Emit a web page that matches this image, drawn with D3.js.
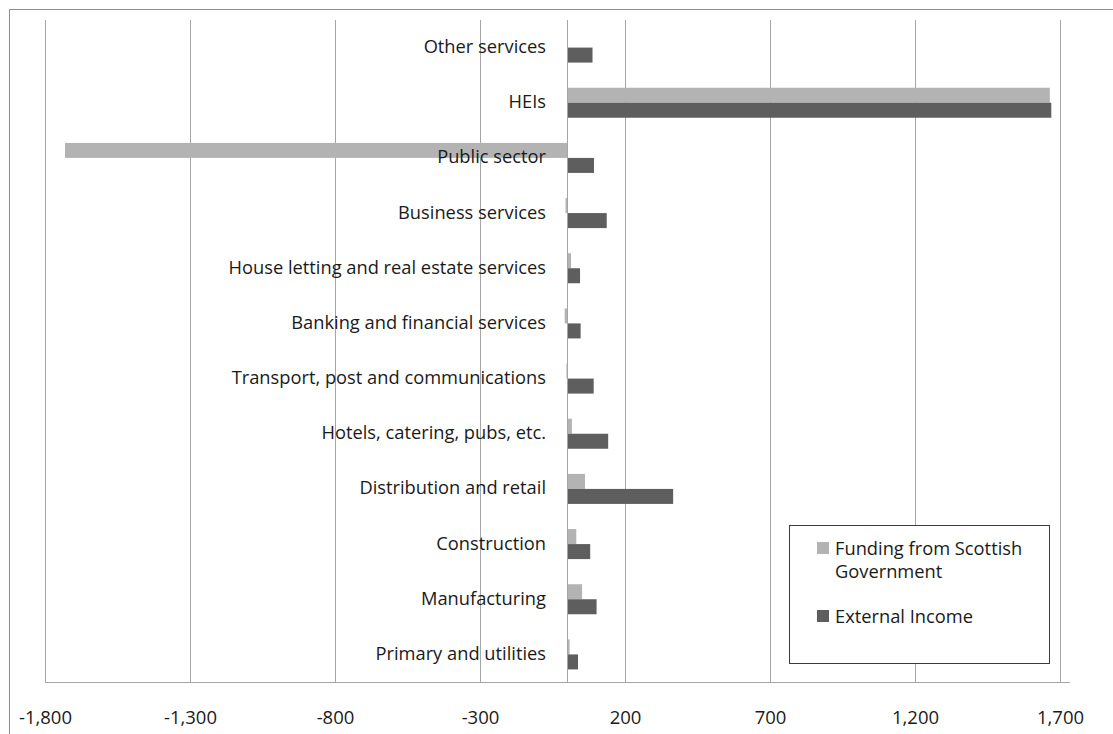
<!DOCTYPE html>
<html>
<head>
<meta charset="utf-8">
<script src="https://cdn.jsdelivr.net/npm/d3@7"></script>
<style>
  body { margin: 0; background: #fff; }
  text { font-family: "Open Sans", sans-serif; fill: #1a1a1a; }
</style>
</head>
<body>
<svg id="chart"></svg>
<script>
const width = 1113,
      height = 734;

// data (top to bottom)
const categories = [
    "Other services", "HEIs", "Public sector", "Business services",
    "House letting and real estate services", "Banking and financial services",
    "Transport, post and communications", "Hotels, catering, pubs, etc.",
    "Distribution and retail", "Construction", "Manufacturing", "Primary and utilities"
];
const seriesNames = ["Funding from Scottish Government", "External Income"];
const fundingValues  = [0, 1665, -1731, -5, 14, -8, -2, 17, 62, 32, 52, 9];
const externalValues = [88, 1670, 93, 137, 45, 47, 92, 142, 366, 80, 102, 38];
const tickValues = [-1800, -1300, -800, -300, 200, 700, 1200, 1700];

const colors = ["#b3b3b3", "#5e5e5e"];

const MARGIN = { LEFT: 45, RIGHT: 53, TOP: 20, BOTTOM: 52 };

const svg = d3.select("#chart").attr("width", width).attr("height", height);

// chart area frame (only top and left edges show in the picture)
svg.append("path")
    .attr("d", `M9.5,${height} V9.5 H${width}`)
    .attr("fill", "none").attr("stroke", "#8c8c8c");

const x = d3.scaleLinear()
    .domain([-1800, 1700])
    .range([MARGIN.LEFT, width - MARGIN.RIGHT]);

const y = d3.scaleBand()
    .domain(categories)
    .range([MARGIN.TOP, height - MARGIN.BOTTOM])
    .paddingInner(0.456)
    .paddingOuter(0.228);

const ySub = d3.scaleBand()
    .domain([0, 1])
    .range([0, y.bandwidth()]);

// gridlines
svg.append("g")
    .selectAll("line")
    .data(tickValues)
    .join("line")
    .attr("x1", d => Math.round(x(d)) + 0.5)
    .attr("x2", d => Math.round(x(d)) + 0.5)
    .attr("y1", MARGIN.TOP)
    .attr("y2", height - MARGIN.BOTTOM)
    .attr("stroke", "#a6a6a6");

// bars
const rows = categories.map((c, i) => ({ cat: c, vals: [fundingValues[i], externalValues[i]] }));
const g = svg.append("g");
g.selectAll("g")
    .data(rows)
    .join("g")
    .attr("transform", d => `translate(0,${y(d.cat)})`)
    .selectAll("rect")
    .data(d => d.vals.map((v, k) => ({ v, k })))
    .join("rect")
    .attr("x", d => x(Math.min(0, d.v)))
    .attr("width", d => Math.abs(x(d.v) - x(0)))
    .attr("y", d => ySub(d.k))
    .attr("height", ySub.bandwidth())
    .attr("fill", d => colors[d.k]);

// vertical axis at zero
svg.append("line")
    .attr("x1", Math.round(x(0)) + 0.5).attr("x2", Math.round(x(0)) + 0.5)
    .attr("y1", MARGIN.TOP).attr("y2", height - MARGIN.BOTTOM)
    .attr("stroke", "#a6a6a6");

// category labels, right aligned next to the zero line
svg.append("g")
    .selectAll("text")
    .data(categories)
    .join("text")
    .attr("x", x(0) - 21)
    .attr("y", d => y(d) + y.bandwidth() / 2)
    .attr("dy", "0.3em")
    .attr("text-anchor", "end")
    .attr("font-size", 18.3)
    .text(d => d);

// bottom axis
const xAxis = d3.axisBottom(x)
    .tickValues(tickValues)
    .tickSize(0)
    .tickPadding(29)
    .tickFormat(d => d3.format(",")(d).replace("\u2212", "-"));
const axisG = svg.append("g")
    .attr("transform", `translate(0,${height - MARGIN.BOTTOM})`)
    .call(xAxis);
axisG.select(".domain")
    .attr("d", `M${MARGIN.LEFT},0.5 H${width - MARGIN.RIGHT + 10}`)
    .attr("stroke", "#a6a6a6");
axisG.selectAll("text")
    .attr("font-size", 18.5)
    .attr("font-family", "Open Sans, sans-serif")
    .attr("fill", "#1a1a1a");

// legend
const legend = svg.append("g").attr("transform", "translate(789,525)");
legend.append("rect")
    .attr("x", 0.5).attr("y", 0.5)
    .attr("width", 260).attr("height", 138)
    .attr("fill", "#fff").attr("stroke", "#3c3c3c");
const legendLines = [["Funding from Scottish", "Government"], ["External Income"]];
const legendY = [17, 85];
legendLines.forEach((lines, k) => {
    legend.append("rect")
        .attr("x", 28).attr("y", legendY[k])
        .attr("width", 12).attr("height", 12)
        .attr("fill", colors[k]);
    legend.append("text")
        .attr("x", 46).attr("y", legendY[k] + 13)
        .attr("font-size", 18.3)
        .selectAll("tspan")
        .data(lines)
        .join("tspan")
        .attr("x", 46)
        .attr("dy", (d, i) => i ? 23 : 0)
        .text(d => d);
});
</script>
</body>
</html>
